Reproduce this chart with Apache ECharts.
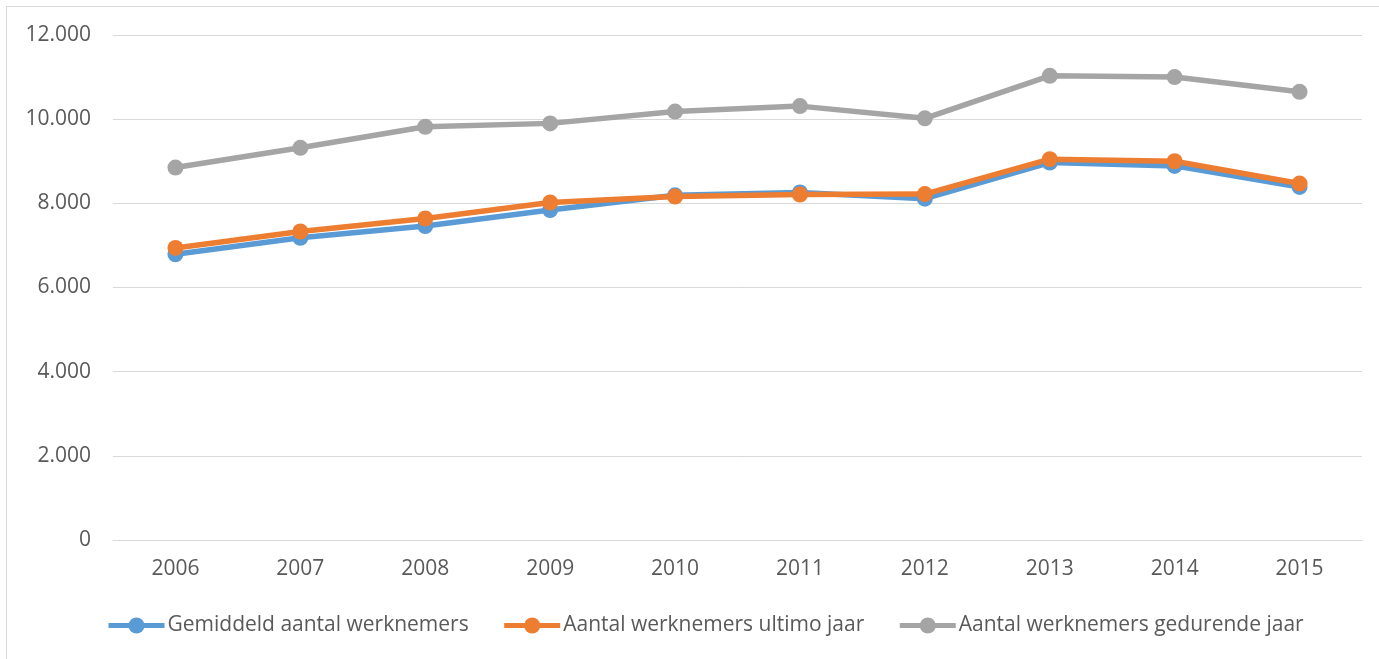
<!DOCTYPE html>
<html>
<head>
<meta charset="utf-8">
<script src="https://cdn.jsdelivr.net/npm/echarts@6/dist/echarts.min.js"></script>
<style>
  html, body { margin: 0; padding: 0; background: #fff; }
  #frame { position: absolute; left: 6px; top: 6px; width: 1400px; height: 700px; border: 1px solid #d9d9d9; }
  #main { position: absolute; left: 0; top: 0; width: 1379px; height: 659px; }
</style>
</head>
<body>
<div id="frame"></div>
<div id="main"></div>
<script>
const years = ['2006', '2007', '2008', '2009', '2010', '2011', '2012', '2013', '2014', '2015'];
const gemiddeld = [6790, 7180, 7460, 7840, 8190, 8260, 8110, 8970, 8890, 8390];
const ultimo = [6940, 7330, 7640, 8020, 8160, 8210, 8220, 9050, 9000, 8470];
const gedurende = [8850, 9320, 9820, 9900, 10180, 10310, 10020, 11030, 11000, 10650];

const COLORS = ['#5b9bd5', '#ed7d31', '#a5a5a5'];
const FONT = 'Open Sans, Liberation Sans, sans-serif';

const chart = echarts.init(document.getElementById('main'));

const makeSeries = (name, data, color) => ({
  name,
  type: 'line',
  data,
  symbol: 'circle',
  symbolSize: 16,
  lineStyle: { width: 5.5, color },
  itemStyle: { color },
  animation: false
});

chart.setOption({
  color: COLORS,
  grid: { left: 113, right: 17, top: 35, bottom: 119 },
  xAxis: {
    type: 'category',
    data: years,
    boundaryGap: true,
    axisLine: { lineStyle: { color: '#d9d9d9', width: 1 } },
    axisTick: { show: false },
    axisLabel: { color: '#595959', fontSize: 21, fontFamily: FONT, margin: 19 }
  },
  yAxis: {
    type: 'value',
    min: 0,
    max: 12000,
    interval: 2000,
    axisLine: { show: false },
    axisTick: { show: false },
    splitLine: { lineStyle: { color: '#d9d9d9', width: 1 } },
    axisLabel: {
      color: '#595959', fontSize: 21, fontFamily: FONT, margin: 22,
      formatter: v => v === 0 ? '0' : (v / 1000).toFixed(3)
    }
  },
  legend: {
    top: 610,
    left: 101,
    itemWidth: 56,
    itemHeight: 20,
    itemGap: 33,
    lineStyle: { width: 5 },
    textStyle: { color: '#595959', fontSize: 21, fontFamily: FONT, padding: [0, 0, 0, -2] },
    data: ['Gemiddeld aantal werknemers', 'Aantal werknemers ultimo jaar', 'Aantal werknemers gedurende jaar']
  },
  series: [
    makeSeries('Gemiddeld aantal werknemers', gemiddeld, COLORS[0]),
    makeSeries('Aantal werknemers ultimo jaar', ultimo, COLORS[1]),
    makeSeries('Aantal werknemers gedurende jaar', gedurende, COLORS[2])
  ]
});
</script>
</body>
</html>
